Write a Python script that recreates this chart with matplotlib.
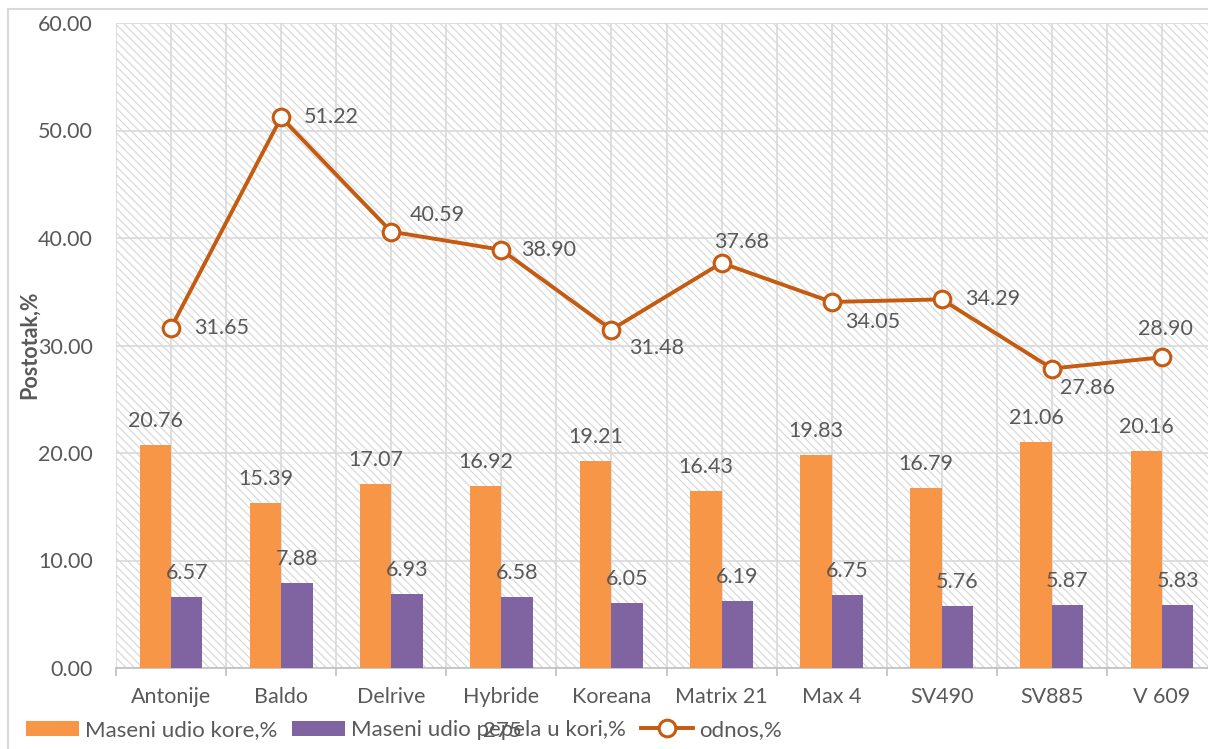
import matplotlib
matplotlib.use("Agg")
import matplotlib.pyplot as plt
import numpy as np
from matplotlib.patches import Rectangle
from matplotlib.lines import Line2D

plt.rcParams['font.family'] = ['Lato', 'DejaVu Sans']
plt.rcParams['hatch.linewidth'] = 0.8

categories = ["Antonije", "Baldo", "Delrive", "Hybride", "Koreana",
              "Matrix 21", "Max 4", "SV490", "SV885", "V 609"]
kora = [20.76, 15.39, 17.07, 16.92, 19.21, 16.43, 19.83, 16.79, 21.06, 20.16]
pepeo = [6.57, 7.88, 6.93, 6.58, 6.05, 6.19, 6.75, 5.76, 5.87, 5.83]
odnos = [31.65, 51.22, 40.59, 38.90, 31.48, 37.68, 34.05, 34.29, 27.86, 28.90]
y_ticks = [0, 10, 20, 30, 40, 50, 60]

# label placement for the line values (offset in px from marker, ha)
line_lbl = [(23, 0, "left"), (23, 0, "left"), (18, 17, "left"), (20, 0, "left"),
            (18, -18, "left"), (20, 21, "center"), (13, -20, "left"),
            (23, 0, "left"), (8, -19, "left"), (3, 28, "center")]

ORANGE = "#F79646"
PURPLE = "#8064A2"
LINE = "#C55A11"
GRID = "#D9D9D9"
TXT = "#595959"
PT = 0.72  # points per pixel at dpi 100
FS = 15.5

W, H = 1208, 749
fig = plt.figure(figsize=(W / 100, H / 100), dpi=100)
ax = fig.add_axes([116 / W, 1 - 668 / H, (1217 - 116) / W, (668 - 23) / H])
ax.set_facecolor("white")

# chart-area frame (cropped at right and bottom in the original)
fig.add_artist(Line2D([8 / W, 1.0], [1 - 9 / H] * 2, transform=fig.transFigure,
                      color=GRID, lw=1.5))
fig.add_artist(Line2D([8 / W] * 2, [0, 1 - 9 / H], transform=fig.transFigure,
                      color=GRID, lw=1.5))

ax.add_patch(Rectangle((0, 0), 1, 1, transform=ax.transAxes, facecolor="white",
                       edgecolor="#D6D6D6", hatch="\\\\\\\\", lw=0, zorder=0))

x = np.arange(len(categories))
bw = 0.285
b1 = ax.bar(x - bw / 2, kora, bw, color=ORANGE, zorder=3, label="Maseni udio kore,%")
b2 = ax.bar(x + bw / 2, pepeo, bw, color=PURPLE, zorder=3,
            label="Maseni udio pepela u kori,%")
ln, = ax.plot(x, odnos, color=LINE, lw=2.8, marker="o", markersize=12,
              markerfacecolor="white", markeredgecolor=LINE, markeredgewidth=2.2,
              zorder=4, label="odnos,%")

for xi, v in zip(x - bw / 2, kora):
    ax.annotate(f"{v:.2f}", (xi, v), xytext=(0, 18 * PT), textcoords="offset points",
                ha="center", va="baseline", fontsize=FS, color=TXT, zorder=5)
for xi, v in zip(x + bw / 2, pepeo):
    ax.annotate(f"{v:.2f}", (xi, v), xytext=(0, 18 * PT), textcoords="offset points",
                ha="center", va="baseline", fontsize=FS, color=TXT, zorder=5)
for xi, v, (dx, dy, ha) in zip(x, odnos, line_lbl):
    ax.annotate(f"{v:.2f}", (xi, v), xytext=(dx * PT, dy * PT), textcoords="offset points",
                ha=ha, va="center", fontsize=FS, color=TXT, zorder=5)

ax.set_xlim(-0.5, len(categories) - 0.5)
ax.set_ylim(0, 60)
ax.set_yticks(y_ticks)
ax.set_yticklabels([f"{t:.2f}" for t in y_ticks])
ax.set_xticks(x)
ax.set_xticklabels(categories)
ax.set_xticks(np.arange(-0.5, len(categories), 0.5), minor=True)

ax.tick_params(axis="x", which="major", length=0, pad=19 * PT, labelsize=FS, labelcolor=TXT)
ax.tick_params(axis="x", which="minor", length=8 * PT, color="#BFBFBF", width=1.2)
ax.tick_params(axis="y", length=0, pad=23 * PT, labelsize=FS, labelcolor=TXT)

ax.grid(axis="y", color=GRID, lw=1.2, zorder=1)
ax.grid(axis="x", which="both", color=GRID, lw=1.2, zorder=1)
ax.set_axisbelow(True)

for s in ("top", "right", "left"):
    ax.spines[s].set_visible(False)
ax.spines["bottom"].set_color("#BFBFBF")
ax.spines["bottom"].set_linewidth(1.2)

# tick marks only on category boundaries
for t, loc in zip(ax.xaxis.get_minor_ticks(), ax.xaxis.get_minorticklocs()):
    if abs((loc + 0.5) % 1.0) > 1e-6:
        t.tick1line.set_visible(False)

fig.text(29 / W, 1 - 345 / H, "Postotak,%", rotation=90, ha="center", va="center",
         fontsize=15.5, fontweight="bold", color=TXT)

fig.legend(handles=[b1, b2, ln], loc="center left", bbox_to_anchor=(26 / W, 1 - 730 / H),
           ncol=3, frameon=False, fontsize=16, handlelength=52 / 22, handleheight=14 / 22,
           handletextpad=6 / 22, columnspacing=15 / 22, borderpad=0, borderaxespad=0,
           labelcolor=TXT)
fig.text(502 / W, 1 - 731 / H, "275", ha="center", va="center", fontsize=16, color=TXT)

fig.savefig("out.png", dpi=100)
